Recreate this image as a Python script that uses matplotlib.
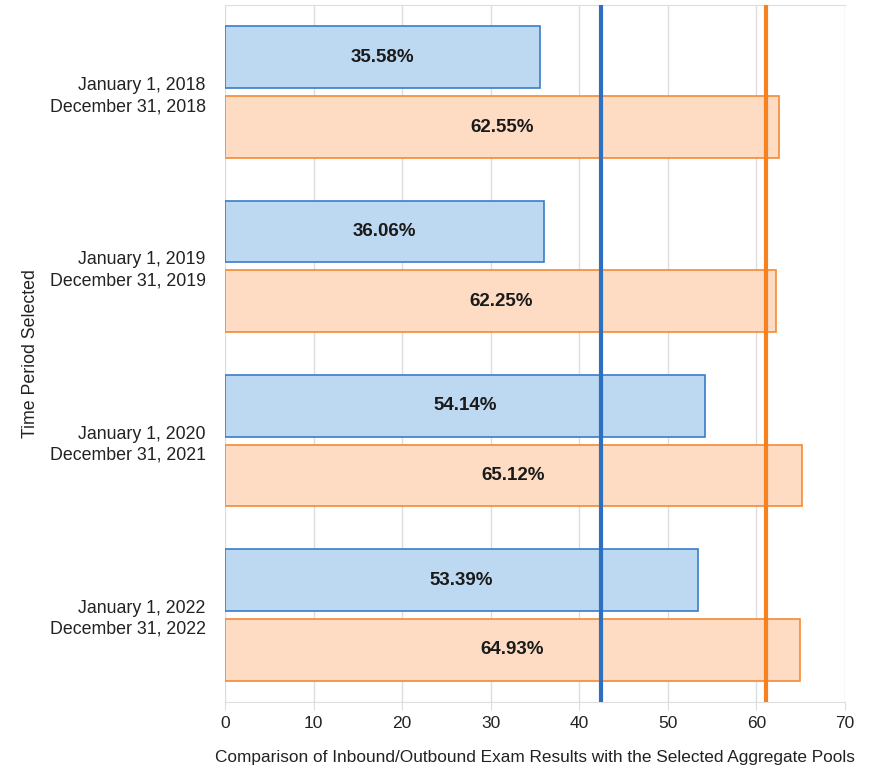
import matplotlib
matplotlib.use("Agg")
import matplotlib.pyplot as plt
import numpy as np

plt.rcParams["font.family"] = ["Liberation Sans", "DejaVu Sans"]

periods = [
    "January 1, 2018\nDecember 31, 2018",
    "January 1, 2019\nDecember 31, 2019",
    "January 1, 2020\nDecember 31, 2021",
    "January 1, 2022\nDecember 31, 2022",
]
inbound = [35.58, 36.06, 54.14, 53.39]
outbound = [62.55, 62.25, 65.12, 64.93]
inbound_pool = 42.4
outbound_pool = 61.1

_BLUE_FILL, _BLUE_EDGE, _BLUE_LINE = "#bdd9f1", "#3a7dc9", "#2e6fbf"
_ORANGE_FILL, _ORANGE_EDGE, _ORANGE_LINE = "#fddcc3", "#f58a33", "#f5821f"
_GRID = "#dddddd"
_TEXT = "#222222"

fig = plt.figure(figsize=(8.74, 7.74), dpi=100)
ax = fig.add_axes([0.2574, 0.093, 0.7094, 0.9005])

y = np.arange(len(periods))
h = 0.355
off = 0.2
ax.barh(y - off, inbound, height=h, color=_BLUE_FILL, edgecolor=_BLUE_EDGE,
        linewidth=1.2, zorder=2)
ax.barh(y + off, outbound, height=h, color=_ORANGE_FILL, edgecolor=_ORANGE_EDGE,
        linewidth=1.2, zorder=2)

for yi, v in zip(y, inbound):
    ax.text(v / 2, yi - off, f"{v:.2f}%", ha="center", va="center",
            fontsize=13.5, fontweight="bold", color="#1a1a1a", zorder=4)
for yi, v in zip(y, outbound):
    ax.text(v / 2, yi + off, f"{v:.2f}%", ha="center", va="center",
            fontsize=13.5, fontweight="bold", color="#1a1a1a", zorder=4)

ax.axvline(inbound_pool, color=_BLUE_LINE, lw=3, zorder=3)
ax.axvline(outbound_pool, color=_ORANGE_LINE, lw=3, zorder=3)

ax.set_xlim(0, 70)
ax.set_ylim(3.5, -0.5)
ax.set_xticks(np.arange(0, 71, 10))
ax.set_yticks(y)
ax.set_yticklabels(periods, ha="right", fontsize=12.8, color=_TEXT,
                   linespacing=1.3)
ax.tick_params(axis="y", length=0, pad=14)
ax.tick_params(axis="x", length=6, color=_GRID, labelsize=12.5,
               labelcolor=_TEXT, pad=4)
ax.grid(axis="x", color=_GRID, lw=1, zorder=0)
ax.set_axisbelow(True)
for side in ["top", "bottom", "left", "right"]:
    ax.spines[side].set_color(_GRID)
ax.spines["left"].set_visible(False)
ax.spines["right"].set_visible(False)

ax.set_xlabel("Comparison of Inbound/Outbound Exam Results with the Selected Aggregate Pools",
              fontsize=12.4, color=_TEXT, labelpad=14)
ax.set_ylabel("Time Period Selected", fontsize=12.8, color=_TEXT)
ax.yaxis.set_label_coords(-0.30, 0.5)

fig.savefig("out.png", dpi=100)
